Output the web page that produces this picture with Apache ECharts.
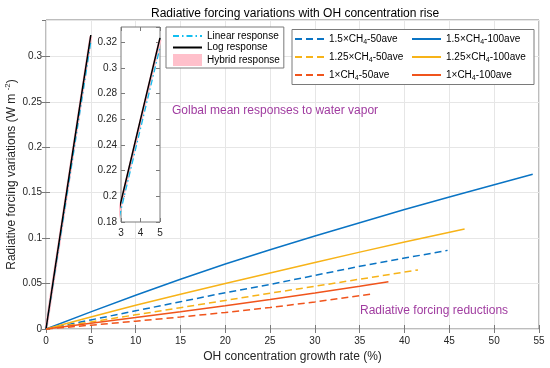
<!DOCTYPE html>
<html>
<head>
<meta charset="utf-8">
<script src="https://cdn.jsdelivr.net/npm/echarts@6/dist/echarts.min.js"></script>
<style>html,body{margin:0;padding:0;background:#fff}#c{width:550px;height:368px}</style>
</head>
<body>
<div id="c"></div>
<script>
// ---- data ----
const xTicksMain = [0, 5, 10, 15, 20, 25, 30, 35, 40, 45, 50, 55];
const responseX = [0, 1, 2, 3, 4, 5];
const linearY = [0, 0.0632, 0.1264, 0.1896, 0.2528, 0.316];
const logY    = [0, 0.066, 0.131, 0.196, 0.260, 0.3235];
const hybridY = [0, 0.065, 0.129, 0.194, 0.258, 0.322];

const blue50X  = [0, 5, 10, 15, 20, 25, 30, 35, 40, 44.8];
const blue50Y  = [0, 0.010, 0.020, 0.030, 0.040, 0.049, 0.059, 0.069, 0.078, 0.0865];
const blue100X = [0, 5, 10, 15, 20, 25, 30, 35, 40, 45, 50, 54.3];
const blue100Y = [0, 0.0188, 0.0372, 0.0548, 0.0715, 0.0872, 0.1023, 0.117, 0.1314, 0.1453, 0.1588, 0.1702];
const yel50X   = [0, 5, 10, 15, 20, 25, 30, 35, 41.5];
const yel50Y   = [0, 0.0078, 0.0156, 0.0235, 0.0314, 0.0394, 0.047, 0.0548, 0.065];
const yel100X  = [0, 5, 10, 15, 20, 25, 30, 35, 40, 46.7];
const yel100Y  = [0, 0.0133, 0.0261, 0.0383, 0.0501, 0.0617, 0.0732, 0.0846, 0.0958, 0.110];
const red50X   = [0, 5, 10, 15, 20, 25, 30, 36.3];
const red50Y   = [0, 0.0042, 0.0086, 0.0132, 0.0182, 0.0237, 0.0298, 0.0385];
const red100X  = [0, 5, 10, 15, 20, 25, 30, 35, 38.2];
const red100Y  = [0, 0.0062, 0.0126, 0.0191, 0.0257, 0.0325, 0.0396, 0.047, 0.052];

const names = {
  b50: '1.5×CH4-50ave', b100: '1.5×CH4-100ave',
  y50: '1.25×CH4-50ave', y100: '1.25×CH4-100ave',
  r50: '1×CH4-50ave', r100: '1×CH4-100ave'
};
const titleText = 'Radiative forcing variations with OH concentration rise';
const xName = 'OH concentration growth rate (%)';
const note1 = 'Golbal mean responses to water vapor';
const note2 = 'Radiative forcing reductions';

// ---- styling ----
const FONT = 'Liberation Sans, Arial, sans-serif';
const C_BLUE = '#0A74C4', C_YEL = '#F7B318', C_RED = '#F0541C', C_CYAN = '#12BEF0', C_PINK = '#FFC0CB';
const FRAME = '#7a7a7a', TXT = '#262626', GRID = '#e6e6e6', PURPLE = '#A03CA0';
const pairs = (xs, ys) => xs.map((x, i) => [x, ys[i]]);

function ln(name, xs, ys, color, type, xi, yi, width, z) {
  return {
    type: 'line', name, data: pairs(xs, ys), xAxisIndex: xi, yAxisIndex: yi,
    symbol: 'none', color, z: z,
    lineStyle: { color, width: width || 1.5, type: type || 'solid' },
    animation: false, clip: true
  };
}
const DASH = [7, 4];
const DASHDOT = [6, 3, 1.5, 3];

function frameAxes(gridIndex, isX, opts) {
  return Object.assign({
    type: 'value', gridIndex,
    axisLine: { show: false },
    axisTick: { show: true, inside: true, length: 4, lineStyle: { color: FRAME } },
    axisLabel: { show: false },
    splitLine: { show: false }
  }, opts);
}
const richLegendText = {
  fontSize: 10, color: '#000', fontFamily: FONT, lineHeight: 14,
  rich: { s: { fontSize: 7, lineHeight: 8, verticalAlign: 'bottom', color: '#000', fontFamily: FONT } }
};

const chart = echarts.init(document.getElementById('c'), null, { renderer: 'canvas' });
const option = {
  animation: false,
  backgroundColor: '#fff',
  textStyle: { fontFamily: FONT },
  title: {
    text: titleText, left: 146, top: 3,
    textStyle: { fontFamily: FONT, fontSize: 12, fontWeight: 'normal', color: '#000' }
  },
  grid: [
    { left: 46, top: 20, width: 493, height: 309, show: true, borderColor: FRAME, borderWidth: 1,
      backgroundColor: 'transparent', z: 0, containLabel: false, outerBoundsMode: 'none' },
    { left: 121, top: 27, width: 39, height: 195, show: true, borderColor: FRAME, borderWidth: 1,
      backgroundColor: '#fff', z: 3, containLabel: false, outerBoundsMode: 'none' }
  ],
  xAxis: [
    frameAxes(0, true, {
      min: 0, max: 55, interval: 5, position: 'bottom',
      axisLabel: { show: true, fontSize: 10, color: TXT, margin: 7, fontFamily: FONT },
      splitLine: { show: true, lineStyle: { color: GRID, width: 1 } },
      name: xName, nameLocation: 'middle', nameGap: 21,
      nameTextStyle: { fontSize: 12, color: TXT, fontFamily: FONT }
    }),
    frameAxes(0, true, { min: 0, max: 55, interval: 5, position: 'top' }),
    frameAxes(1, true, {
      min: 3, max: 5, interval: 1, position: 'bottom', z: 4,
      axisLabel: { show: true, fontSize: 10, color: TXT, margin: 6, fontFamily: FONT }
    }),
    frameAxes(1, true, { min: 3, max: 5, interval: 1, position: 'top', z: 4 })
  ],
  yAxis: [
    frameAxes(0, false, {
      min: 0, max: 0.34, interval: 0.05, position: 'left',
      axisLabel: { show: true, fontSize: 10, color: TXT, margin: 4, showMaxLabel: false, fontFamily: FONT },
      splitLine: { show: true, lineStyle: { color: GRID, width: 1 } },
      name: 'Radiative forcing variations (W m {sup|-2})', nameLocation: 'middle', nameGap: 26,
      nameMoveOverlap: false,
      nameTextStyle: { fontSize: 12, color: TXT, fontFamily: FONT, lineHeight: 16,
        rich: { sup: { fontSize: 8, lineHeight: 8, verticalAlign: 'top', color: TXT, fontFamily: FONT } } }
    }),
    frameAxes(0, false, { min: 0, max: 0.34, interval: 0.05, position: 'right' }),
    frameAxes(1, false, {
      min: 0.18, max: 0.332, interval: 0.02, position: 'left', z: 4,
      axisLabel: { show: true, fontSize: 10, color: TXT, margin: 4, showMaxLabel: false, fontFamily: FONT }
    }),
    frameAxes(1, false, { min: 0.18, max: 0.332, interval: 0.02, position: 'right', z: 4 })
  ],
  legend: [
    {
      data: ['Linear response', 'Log response',
             { name: 'Hybrid response', icon: 'rect', itemStyle: { opacity: 1, color: C_PINK } }],
      orient: 'vertical', left: 166, top: 27, padding: [4, 4, 2, 6],
      itemWidth: 29, itemHeight: 12, itemGap: 1.5,
      itemStyle: { opacity: 0 },
      borderColor: FRAME, borderWidth: 1, backgroundColor: '#fff', borderRadius: 0,
      textStyle: { fontSize: 10, color: '#000', fontFamily: FONT },
      selectedMode: false, z: 6
    },
    {
      data: [names.b50, names.y50, names.r50],
      orient: 'vertical', left: 294, top: 32, padding: 0,
      itemWidth: 29, itemHeight: 12, itemGap: 4,
      itemStyle: { opacity: 0 },
      formatter: n => n.replace('CH4', 'CH{s|4}'),
      textStyle: richLegendText,
      selectedMode: false, z: 6
    },
    {
      data: [names.b100, names.y100, names.r100],
      orient: 'vertical', left: 411, top: 32, padding: 0,
      itemWidth: 29, itemHeight: 12, itemGap: 4,
      itemStyle: { opacity: 0 },
      formatter: n => n.replace('CH4', 'CH{s|4}'),
      textStyle: richLegendText,
      selectedMode: false, z: 6
    }
  ],
  graphic: [
    { type: 'rect', z: 5, shape: { x: 292, y: 29.5, width: 242, height: 55 },
      style: { fill: '#fff', stroke: FRAME, lineWidth: 1 } },
    { type: 'text', z: 5, left: 172, top: 105,
      style: { text: note1, fill: PURPLE, font: '12px ' + FONT } },
    { type: 'text', z: 5, left: 360, top: 305,
      style: { text: note2, fill: PURPLE, font: '12px ' + FONT } }
  ],
  series: [
    ln('Hybrid response', responseX, hybridY, C_PINK, 'solid', 0, 0, 3, 2),
    ln('Linear response', responseX, linearY, C_CYAN, DASHDOT, 0, 0, 1.3, 2),
    ln('Log response', responseX, logY, '#000', 'solid', 0, 0, 1.5, 2),
    ln('Hybrid response', responseX, hybridY, C_PINK, 'solid', 2, 2, 3, 5),
    ln('Linear response', responseX, linearY, C_CYAN, DASHDOT, 2, 2, 1.3, 5),
    ln('Log response', responseX, logY, '#000', 'solid', 2, 2, 1.5, 5),
    ln(names.b50, blue50X, blue50Y, C_BLUE, DASH, 0, 0, 1.5, 2),
    ln(names.b100, blue100X, blue100Y, C_BLUE, 'solid', 0, 0, 1.5, 2),
    ln(names.y50, yel50X, yel50Y, C_YEL, DASH, 0, 0, 1.5, 2),
    ln(names.y100, yel100X, yel100Y, C_YEL, 'solid', 0, 0, 1.5, 2),
    ln(names.r50, red50X, red50Y, C_RED, DASH, 0, 0, 1.5, 2),
    ln(names.r100, red100X, red100Y, C_RED, 'solid', 0, 0, 1.5, 2)
  ]
};
chart.setOption(option);
</script>
</body>
</html>
